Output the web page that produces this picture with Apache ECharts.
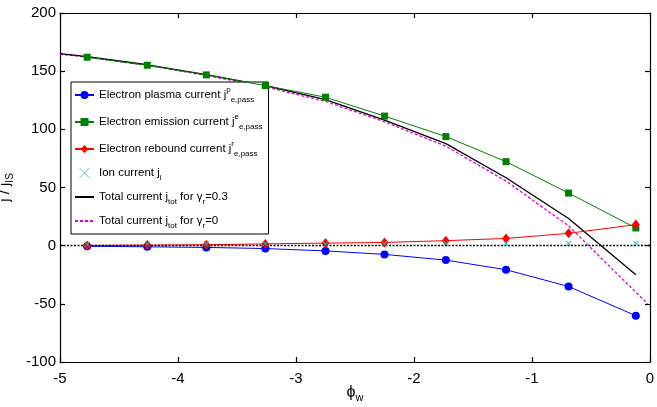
<!DOCTYPE html>
<html>
<head>
<meta charset="utf-8">
<script src="https://cdn.jsdelivr.net/npm/echarts@6/dist/echarts.min.js"></script>
<style>
  html, body { margin: 0; padding: 0; background: #fff; }
  #chart { width: 657px; height: 407px; }
</style>
</head>
<body>
<div id="chart"></div>
<script>
// wall potential at the marker points
const phi = [-4.77, -4.26, -3.76, -3.26, -2.75, -2.25, -1.73, -1.22, -0.69, -0.12];
const plasma = [-0.5, -1, -1.5, -2.5, -4.5, -7.5, -12.4, -20.7, -35.1, -60.2];
const emission = [162.0, 155.1, 146.8, 137.6, 127.6, 111.4, 93.8, 72.2, 45.2, 15.2];
const rebound = [0.2, 0.5, 0.8, 1.5, 2.2, 2.8, 4.3, 6.2, 10.6, 18.1];
const ion = [1.2, 1.3, 1.4, 1.5, 1.6, 1.7, 1.8, 1.9, 2.0, 2.0];

// total currents (own grid)
const phiTot03 = [-5, -4.77, -4.26, -3.76, -3.26, -2.75, -2.25, -1.73, -1.22, -0.69, -0.12];
const total03 = [165, 162.5, 155.5, 147, 137.5, 125.5, 108, 87.7, 58.4, 23.3, -25];
const phiTot0 = [-5, -4.77, -4.26, -3.76, -3.26, -2.75, -2.25, -1.73, -1.22, -0.69, -0.02];
const total0 = [164.5, 162, 155, 146.3, 136.5, 124, 106.5, 85.5, 55.5, 17, -50];

const pairs = (xs, ys) => xs.map((x, i) => [x, ys[i]]);
const font = 'Liberation Sans, Arial, Helvetica, sans-serif';

const legendText = {
    'plasma': '{t|Electron plasma current j}{sp|p}{sb|e,pass}',
    'emission': '{t|Electron emission current j}{sp|e}{sb|e,pass}',
    'rebound': '{t|Electron rebound current j}{sp|r}{sb|e,pass}',
    'ion': '{t|Ion current j}{sb|i}',
    'tot03': '{t|Total current j}{sb|tot}{t| for γ}{sb|r}{t|=0.3}',
    'tot0': '{t|Total current j}{sb|tot}{t| for γ}{sb|r}{t|=0}'
};

const axisCommon = {
    type: 'value',
    axisLine: { show: true, onZero: false, lineStyle: { color: '#000', width: 1.2 } },
    axisTick: { show: true, inside: true, length: 5, lineStyle: { color: '#000', width: 1.2 } },
    splitLine: { show: false }
};

const chart = echarts.init(document.getElementById('chart'));
chart.setOption({
    animation: false,
    backgroundColor: '#fff',
    grid: { left: 60, right: 7, top: 13, bottom: 45, outerBoundsMode: 'none', containLabel: false },
    legend: {
        orient: 'vertical',
        left: 71,
        top: 82,
        padding: [4, 6, 4, 3],
        itemGap: 9,
        itemWidth: 19,
        itemHeight: 10,
        borderColor: '#000',
        borderWidth: 1,
        backgroundColor: '#fff',
        data: [
            'plasma', 'emission', 'rebound',
            { name: 'ion', itemStyle: { borderWidth: 1 } },
            { name: 'tot03', itemStyle: { opacity: 0 } },
            { name: 'tot0', itemStyle: { opacity: 0 } }
        ],
        formatter: name => legendText[name],
        textStyle: {
            fontFamily: font,
            color: '#000',
            rich: {
                t: { fontSize: 11.5, lineHeight: 18, fontFamily: font, color: '#000' },
                sp: { fontSize: 8, lineHeight: 8, verticalAlign: 'top', fontFamily: font, color: '#000' },
                sb: { fontSize: 8, lineHeight: 8, verticalAlign: 'bottom', fontFamily: font, color: '#000' }
            }
        }
    },
    xAxis: [
        Object.assign({}, axisCommon, {
            min: -5, max: 0, interval: 1,
            name: '{a|ϕ}{s|w}',
            nameLocation: 'middle',
            nameGap: 21,
            nameMoveOverlap: false,
            nameTextStyle: {
                rich: {
                    a: { fontSize: 16, lineHeight: 20, fontFamily: font, color: '#000' },
                    s: { fontSize: 11, lineHeight: 11, verticalAlign: 'bottom', fontFamily: font, color: '#000' }
                }
            },
            axisLabel: { fontSize: 15, fontFamily: font, color: '#000', margin: 9 }
        }),
        Object.assign({}, axisCommon, {
            position: 'top', min: -5, max: 0, interval: 1,
            axisLabel: { show: false }
        })
    ],
    yAxis: [
        Object.assign({}, axisCommon, {
            min: -100, max: 200, interval: 50,
            name: '{a|j / j}{s|IS}',
            nameLocation: 'middle',
            nameRotate: 90,
            nameGap: 45,
            nameTextStyle: {
                rich: {
                    a: { fontSize: 15, lineHeight: 20, fontFamily: font, color: '#000' },
                    s: { fontSize: 10, lineHeight: 10, verticalAlign: 'bottom', fontFamily: font, color: '#000' }
                }
            },
            axisLabel: { fontSize: 15, fontFamily: font, color: '#000', margin: 4 }
        }),
        Object.assign({}, axisCommon, {
            position: 'right', min: -100, max: 200, interval: 50,
            axisLabel: { show: false }
        })
    ],
    series: [
        {
            name: 'tot0', type: 'line', data: pairs(phiTot0, total0),
            showSymbol: false, symbol: 'none', z: 3,
            lineStyle: { color: '#e000e0', width: 1.3, type: [3, 2] },
            itemStyle: { color: '#e000e0' }
        },
        {
            name: 'tot03', type: 'line', data: pairs(phiTot03, total03),
            showSymbol: false, symbol: 'none', z: 3,
            lineStyle: { color: '#000', width: 1.3 },
            itemStyle: { color: '#000' }
        },
        {
            name: 'plasma', type: 'line', data: pairs(phi, plasma),
            symbol: 'circle', symbolSize: 8, z: 4,
            lineStyle: { color: '#0000ff', width: 1 },
            itemStyle: { color: '#0000ff' }
        },
        {
            name: 'emission', type: 'line', data: pairs(phi, emission),
            symbol: 'rect', symbolSize: 7, z: 4,
            lineStyle: { color: '#008000', width: 1 },
            itemStyle: { color: '#008000' }
        },
        {
            name: 'rebound', type: 'line', data: pairs(phi, rebound),
            symbol: 'diamond', symbolSize: [8, 10], z: 4,
            lineStyle: { color: '#ff0000', width: 1 },
            itemStyle: { color: '#ff0000' }
        },
        {
            name: 'ion', type: 'scatter', data: pairs(phi, ion),
            symbol: 'path://M0,0L10,10M10,0L0,10', symbolSize: 5, z: 6,
            itemStyle: { color: '#20b8b8', borderColor: '#20b8b8', borderWidth: 1.2 },
            markLine: {
                silent: true, symbol: 'none', label: { show: false },
                lineStyle: { color: '#000', width: 1.4, type: [2, 1.5] },
                data: [{ yAxis: 0 }]
            }
        }
    ]
});
</script>
</body>
</html>
